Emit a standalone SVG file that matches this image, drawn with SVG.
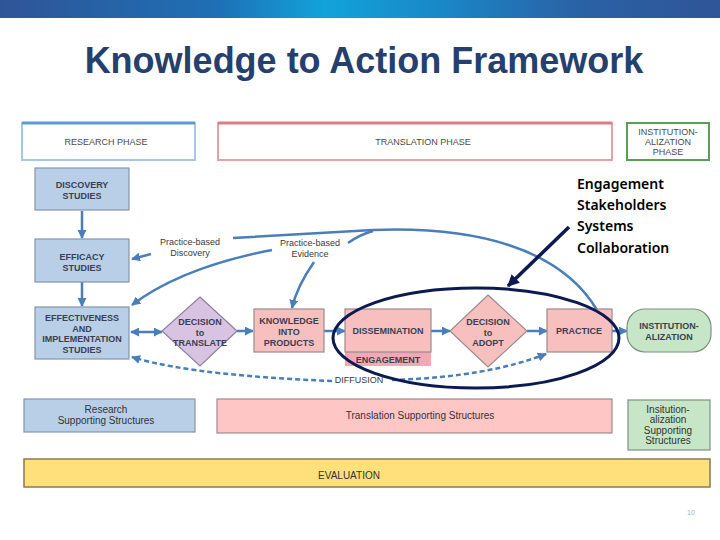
<svg xmlns="http://www.w3.org/2000/svg" width="720" height="540" viewBox="0 0 720 540">
<defs>
<linearGradient id="banner" x1="0" y1="0" x2="1" y2="0">
<stop offset="0" stop-color="#2f5597"/>
<stop offset="0.3" stop-color="#1e6fb5"/>
<stop offset="0.45" stop-color="#11a3da"/>
<stop offset="0.62" stop-color="#1a86c6"/>
<stop offset="0.8" stop-color="#2a62a6"/>
<stop offset="1" stop-color="#2f5597"/>
</linearGradient>
<marker id="ah" viewBox="0 0 10 10" refX="9" refY="5" markerWidth="9" markerHeight="9" markerUnits="userSpaceOnUse" orient="auto-start-reverse">
<path d="M0,0 L10,5 L0,10 z" fill="#4a7ebb"/>
</marker>
<marker id="ahn" viewBox="0 0 10 10" refX="9" refY="5" markerWidth="12" markerHeight="12" markerUnits="userSpaceOnUse" orient="auto">
<path d="M0,0 L10,5 L0,10 z" fill="#0d1a52"/>
</marker>
<style>
.title{font-family:"Liberation Sans",Arial,sans-serif;font-weight:bold;font-size:36px;fill:#253f6e}
.phase{fill:#fff;stroke-width:2}
.ptxt{font-family:"Liberation Sans",Arial,sans-serif;font-size:9px;fill:#4a4a4a;text-anchor:middle}
.blue{fill:#b9cfe8;stroke:#8595aa;stroke-width:1.2}
.pink{fill:#f8bfbf;stroke:#9a8a8a;stroke-width:1.2}
.lav{fill:#d8c4e2;stroke:#8f7f9f;stroke-width:1.2}
.green{fill:#c7e6c7;stroke:#7f8f7f;stroke-width:1.2}
.ntxt{font-family:"Liberation Sans",Arial,sans-serif;font-weight:bold;font-size:9px;fill:#3a4050;text-anchor:middle}
.stxt{font-family:"Liberation Sans",Arial,sans-serif;font-size:10px;fill:#333;text-anchor:middle}
.lbl{font-family:"Liberation Sans",Arial,sans-serif;font-size:9px;fill:#3a3a3a;text-anchor:middle}
.conn{fill:none;stroke:#4a7ebb;stroke-width:2.5}
.dash{fill:none;stroke:#4a7ebb;stroke-width:2.5;stroke-dasharray:5,3}
.note{font-family:"Noto Sans","Open Sans",sans-serif;font-weight:600;font-size:14px;fill:#000}
</style>
</defs>
<rect width="720" height="540" fill="#fff"/>
<rect x="0" y="0" width="720" height="18" fill="url(#banner)"/>
<text class="title" x="364" y="73" text-anchor="middle">Knowledge to Action Framework</text>

<g id="research-phase">
<rect class="phase" x="22" y="123" width="173" height="37" stroke="#a9c6e6"/>
<line x1="22" y1="123" x2="195" y2="123" stroke="#5b9bd5" stroke-width="3"/>
<text class="ptxt" x="106" y="145">RESEARCH PHASE</text>
</g>
<g id="translation-phase">
<rect class="phase" x="218" y="123" width="394" height="37" stroke="#e8a0a4"/>
<line x1="218" y1="123" x2="612" y2="123" stroke="#e07c82" stroke-width="3"/>
<text class="ptxt" x="423" y="145">TRANSLATION PHASE</text>
</g>
<g id="institution-phase">
<rect class="phase" x="627" y="123" width="82" height="37" stroke="#5a9e5a" stroke-width="3"/>
<text class="ptxt" x="668" y="135">INSTITUTION-</text>
<text class="ptxt" x="668" y="145">ALIZATION</text>
<text class="ptxt" x="668" y="155">PHASE</text>
</g>

<g id="connectors">
<line class="conn" x1="82" y1="211" x2="82" y2="238" stroke-width="1.5" marker-end="url(#ah)"/>
<line class="conn" x1="82" y1="282" x2="82" y2="306" stroke-width="1.5" marker-end="url(#ah)"/>
<path class="conn" d="M597,310 C560,248 475,226 373,230 C320,233 270,236 233,238"/>
<path class="conn" d="M373,231 C362,234 355,238 348,243"/>
<path class="conn" d="M151,254 L132,259" marker-end="url(#ah)"/>
<path class="conn" d="M272,250 C210,262 165,280 132,305" marker-end="url(#ah)"/>
<path class="conn" d="M314,262 C305,275 296,290 292,308" marker-end="url(#ah)"/>
<line class="conn" x1="131" y1="332" x2="162" y2="332" marker-start="url(#ah)" marker-end="url(#ah)"/>
<line class="conn" x1="237" y1="331" x2="253" y2="331" marker-end="url(#ah)"/>
<line class="conn" x1="324" y1="331" x2="345" y2="331" marker-end="url(#ah)"/>
<line class="conn" x1="431" y1="331" x2="450" y2="331" marker-end="url(#ah)"/>
<line class="conn" x1="527" y1="331" x2="547" y2="331" marker-end="url(#ah)"/>
<line class="conn" x1="612" y1="331" x2="627" y2="331" marker-end="url(#ah)"/>
<path class="dash" d="M332,381 C260,378 180,372 132,357" marker-end="url(#ah)"/>
<path class="dash" d="M392,380 C460,378 510,368 546,354" marker-end="url(#ah)"/>
</g>

<text class="lbl" x="190" y="245">Practice-based</text>
<text class="lbl" x="190" y="256">Discovery</text>
<text class="lbl" x="310" y="246">Practice-based</text>
<text class="lbl" x="310" y="257">Evidence</text>

<g id="discovery">
<rect class="blue" x="35" y="168" width="94" height="42"/>
<text class="ntxt" x="82" y="188">DISCOVERY</text>
<text class="ntxt" x="82" y="199">STUDIES</text>
</g>
<g id="efficacy">
<rect class="blue" x="35" y="239" width="94" height="43"/>
<text class="ntxt" x="82" y="260">EFFICACY</text>
<text class="ntxt" x="82" y="271">STUDIES</text>
</g>
<g id="effectiveness">
<rect class="blue" x="35" y="307" width="94" height="52"/>
<text class="ntxt" x="82" y="321">EFFECTIVENESS</text>
<text class="ntxt" x="82" y="332">AND</text>
<text class="ntxt" x="82" y="342">IMPLEMENTATION</text>
<text class="ntxt" x="82" y="353">STUDIES</text>
</g>
<g id="decision-translate">
<polygon class="lav" points="200,297 237,331 200,366 162,331"/>
<text class="ntxt" x="200" y="325">DECISION</text>
<text class="ntxt" x="200" y="336">to</text>
<text class="ntxt" x="200" y="346">TRANSLATE</text>
</g>
<g id="knowledge">
<rect class="pink" x="254" y="309" width="70" height="43"/>
<text class="ntxt" x="289" y="324">KNOWLEDGE</text>
<text class="ntxt" x="289" y="335">INTO</text>
<text class="ntxt" x="289" y="346">PRODUCTS</text>
</g>
<g id="dissemination">
<rect x="345" y="352" width="86" height="14" fill="#f2a9b4"/>
<rect class="pink" x="345" y="309" width="86" height="43"/>
<text class="ntxt" x="388" y="334">DISSEMINATION</text>
<text class="ntxt" x="388" y="363" font-weight="normal">ENGAGEMENT</text>
</g>
<g id="decision-adopt">
<polygon class="pink" points="488,295 527,331 488,367 450,331"/>
<text class="ntxt" x="488" y="325">DECISION</text>
<text class="ntxt" x="488" y="336">to</text>
<text class="ntxt" x="488" y="346">ADOPT</text>
</g>
<g id="practice">
<rect class="pink" x="547" y="309" width="65" height="43"/>
<text class="ntxt" x="579" y="334">PRACTICE</text>
</g>
<g id="institutionalization">
<rect class="green" x="627" y="309" width="84" height="43" rx="18" ry="18"/>
<text class="ntxt" x="669" y="329">INSTITUTION-</text>
<text class="ntxt" x="669" y="340">ALIZATION</text>
</g>

<text class="lbl" x="359" y="383">DIFFUSION</text>

<g id="research-support">
<rect class="blue" x="24" y="399" width="171" height="33"/>
<text class="stxt" x="106" y="413">Research</text>
<text class="stxt" x="106" y="424">Supporting Structures</text>
</g>
<g id="translation-support">
<rect x="217" y="399" width="395" height="34" fill="#ffc6c6" stroke="#9a8a8a" stroke-width="1.2"/>
<text class="stxt" x="420" y="419">Translation Supporting Structures</text>
</g>
<g id="institution-support">
<rect class="green" x="628" y="400" width="82" height="50"/>
<text class="stxt" x="668" y="413">Insitution-</text>
<text class="stxt" x="668" y="423">alization</text>
<text class="stxt" x="668" y="434">Supporting</text>
<text class="stxt" x="668" y="444">Structures</text>
</g>
<g id="evaluation">
<rect x="24" y="459" width="686" height="28" fill="#ffe07a" stroke="#8a7a50" stroke-width="1.5"/>
<text class="stxt" x="349" y="479">EVALUATION</text>
</g>

<g id="callout">
<ellipse cx="476" cy="338" rx="143" ry="50" fill="none" stroke="#0d1a52" stroke-width="3"/>
<line x1="569" y1="227" x2="508" y2="286" stroke="#0d1a52" stroke-width="3.5" marker-end="url(#ahn)"/>
<text class="note" x="577" y="189">Engagement</text>
<text class="note" x="577" y="210">Stakeholders</text>
<text class="note" x="577" y="231">Systems</text>
<text class="note" x="577" y="253">Collaboration</text>
</g>

<text x="691" y="515" font-family="Liberation Sans,Arial,sans-serif" font-size="7" fill="#9ab0c8" text-anchor="middle">10</text>
</svg>
